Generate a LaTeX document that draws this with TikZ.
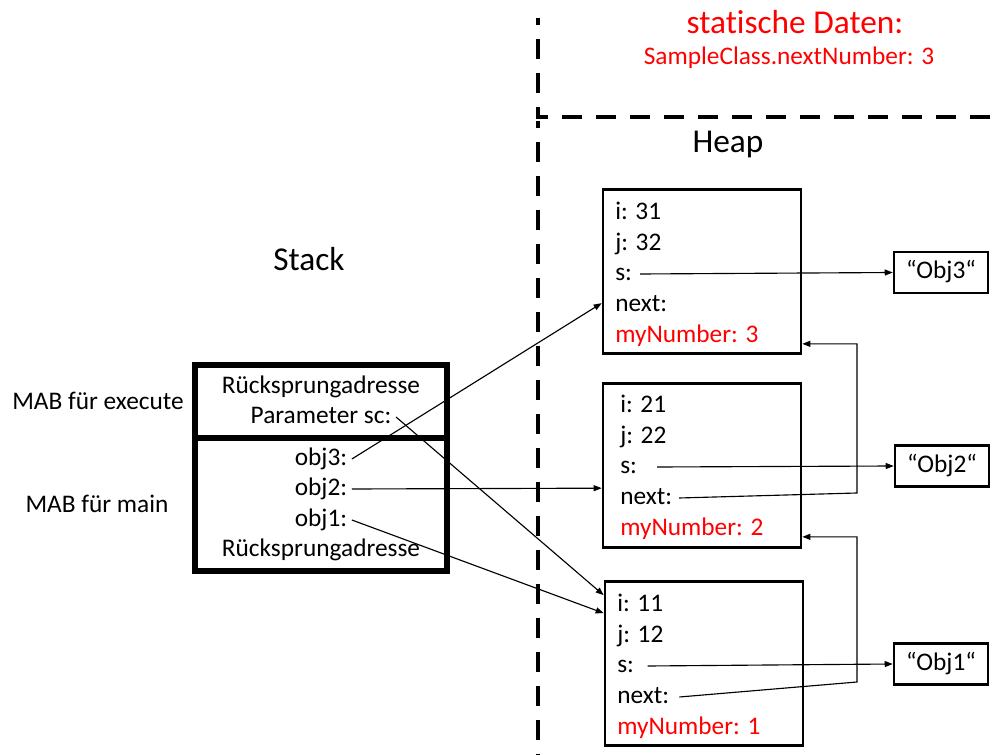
\documentclass[tikz,border=0pt]{standalone}
\usepackage{fontspec}
\setmainfont{Carlito}[Ligatures=NoCommon]
\usetikzlibrary{calc,arrows.meta}

\tikzset{
  txt/.style={font=\fontsize{19}{23}\selectfont, text height=13.3pt, text depth=3.8pt},
  field/.style={txt, anchor=west, inner sep=0pt},
  title/.style={font=\fontsize{25}{30}\selectfont, text height=17.5pt, text depth=5pt},
  objbox/.style={draw, line width=2pt, minimum width=148.5pt, minimum height=123pt, inner sep=0pt},
  strbox/.style={txt, draw, line width=1.9pt, minimum width=70.5pt, minimum height=31pt, inner sep=0pt},
  ptr/.style={-{Triangle[length=6pt,width=4.5pt]}, line width=0.85pt},
  memline/.style={line width=2.8pt, dash pattern=on 15pt off 10.5pt, dash phase=9.75pt}
}

\begin{document}
\begin{tikzpicture}[x=0.75pt, y=-0.75pt]

\useasboundingbox (0,0) rectangle (1004,755);

% Borders between stack, heap and static data
\draw[memline] (538,18) -- (538,117) -- (1004,117);
\draw[memline] (538,121) -- (538,755);

% Titles
\node[title, red] (static) at (795,25) {statische Daten:};
\node[txt, red] (counter) at (789,58.5) {SampleClass.nextNumber: 3};
\node[title] (heap) at (728,144.5) {Heap};
\node[title] (stack) at (309,262.5) {Stack};

% Stack frame with its two MABs
\draw[line width=3.8pt] (195,365) rectangle (447,571);
\draw[line width=3.8pt] (195,438) -- (447,438);

\node[txt] (st-ret1) at (321,387) {Rücksprungadresse};
\node[txt] (st-par) at (321,417) {Parameter sc:};
\node[txt] (st-obj3) at (321,459) {obj3:};
\node[txt] (st-obj2) at (321,489) {obj2:};
\node[txt] (st-obj1) at (321,520) {obj1:};
\node[txt] (st-ret2) at (321,550) {Rücksprungadresse};

\node[txt] (mab-exec) at (98,403) {MAB für execute};
\node[txt] (mab-main) at (97,506) {MAB für main};

% Heap objects
\node[objbox] (o3-box) at (702,271.5) {};
\node[objbox] (o2-box) at (702,465.5) {};
\node[objbox] (o1-box) at (704,663.5) {};

\node[field] (o3-i) at (615,213) {i: 31};
\node[field] (o3-j) at (615,244) {j: 32};
\node[field] (o3-s) at (615,274) {s:};
\node[field] (o3-next) at (615,305) {next:};
\node[field, red] (o3-nr) at (615,336) {myNumber: 3};

\node[field] (o2-i) at (620,406) {i: 21};
\node[field] (o2-j) at (620,437) {j: 22};
\node[field] (o2-s) at (620,467) {s:};
\node[field] (o2-next) at (620,498) {next:};
\node[field, red] (o2-nr) at (620,529) {myNumber: 2};

\node[field] (o1-i) at (617,605) {i: 11};
\node[field] (o1-j) at (617,636) {j: 12};
\node[field] (o1-s) at (617,666) {s:};
\node[field] (o1-next) at (617,697) {next:};
\node[field, red] (o1-nr) at (617,728) {myNumber: 1};

% Strings
\node[strbox] (str3) at (941,272.5) {“Obj3“};
\node[strbox] (str2) at (942,466) {“Obj2“};
\node[strbox] (str1) at (941,664) {“Obj1“};

% References from the stack
\draw[ptr] (st-obj3.east) -- ($(o3-box.north west)+(0,115)$);
\draw[ptr] (st-obj2.east) -- ($(o2-box.north west)+(0,106)$);
\draw[ptr] (st-obj1.east) -- ($(o1-box.north west)+(0,33)$);
\draw[ptr] (st-par.east) -- ($(o1-box.north west)+(0,15)$);

% References to the strings
\draw[ptr] ([xshift=6pt]o3-s.east) -- (str3.west);
\draw[ptr] ([xshift=15pt]o2-s.east) -- (str2.west);
\draw[ptr] ([xshift=10pt]o1-s.east) -- (str1.west);

% next references
\coordinate (n2-turn) at (857,493);
\coordinate (n1-turn) at (857,682);
\draw[ptr] ([xshift=5pt]o2-next.east) -- (n2-turn) |- ($(o3-box.south east)+(0,-11)$);
\draw[ptr] ([xshift=7.5pt]o1-next.east) -- (n1-turn) |- ($(o2-box.south east)+(0,-12)$);

\end{tikzpicture}
\end{document}
